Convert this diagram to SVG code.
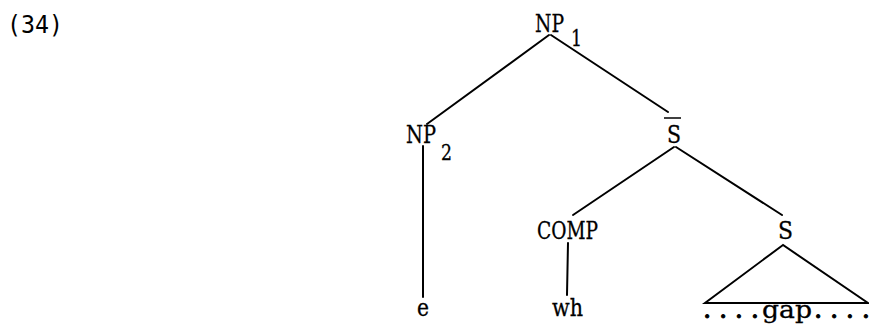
<svg xmlns="http://www.w3.org/2000/svg" width="869" height="324" viewBox="0 0 869 324">
<style>
text{font-family:"DejaVu Sans Mono","Liberation Mono",monospace;fill:#000;font-size:24px}
.lab{font-family:"DejaVu Serif","Liberation Serif",serif;font-size:24px;stroke:#000;stroke-width:0.3}
.sub{font-size:22px}
.dots{font-size:26px;stroke-width:1}
.e{stroke:#000;stroke-width:2;fill:none;stroke-linecap:round}
</style>
<rect width="869" height="324" fill="#fff"/>
<text id="num" x="7" y="33" textLength="56" lengthAdjust="spacingAndGlyphs">(34)</text>
<g id="connectors">
<line class="e" x1="549" y1="35" x2="427" y2="124"/>
<line class="e" x1="551" y1="35" x2="668" y2="112"/>
<line class="e" x1="674" y1="147" x2="573" y2="215"/>
<line class="e" x1="676" y1="147" x2="782" y2="215"/>
<line class="e" x1="423" y1="146" x2="423" y2="297"/>
<line class="e" x1="568" y1="243" x2="567" y2="295"/>
<polygon class="e" points="783,245 705,303 868,303"/>
</g>
<g id="np1"><text class="lab" x="535" y="32" textLength="29" lengthAdjust="spacingAndGlyphs">NP</text><text class="lab sub" x="571" y="46" textLength="11" lengthAdjust="spacingAndGlyphs">1</text></g>
<g id="np2"><text class="lab" x="406" y="143" textLength="30" lengthAdjust="spacingAndGlyphs">NP</text><text class="lab sub" x="441" y="160" textLength="11" lengthAdjust="spacingAndGlyphs">2</text></g>
<g id="sbar"><text class="lab" x="667" y="143" textLength="14" lengthAdjust="spacingAndGlyphs">S</text><line x1="664" y1="118" x2="681" y2="118" stroke="#000" stroke-width="1.5"/></g>
<g id="comp"><text class="lab" x="537" y="239" textLength="61" lengthAdjust="spacingAndGlyphs">COMP</text></g>
<g id="s"><text class="lab" x="778" y="239" textLength="15" lengthAdjust="spacingAndGlyphs">S</text></g>
<g id="e"><text class="lab" x="417" y="316" textLength="12" lengthAdjust="spacingAndGlyphs">e</text></g>
<g id="wh"><text class="lab" x="552" y="316" textLength="31" lengthAdjust="spacingAndGlyphs">wh</text></g>
<g id="gap"><text class="lab dots" x="703" y="318" textLength="56" lengthAdjust="spacing">....</text><text class="lab" x="762" y="318" textLength="50" lengthAdjust="spacingAndGlyphs">gap</text><text class="lab dots" x="814" y="318" textLength="56" lengthAdjust="spacing">....</text></g>
</svg>
